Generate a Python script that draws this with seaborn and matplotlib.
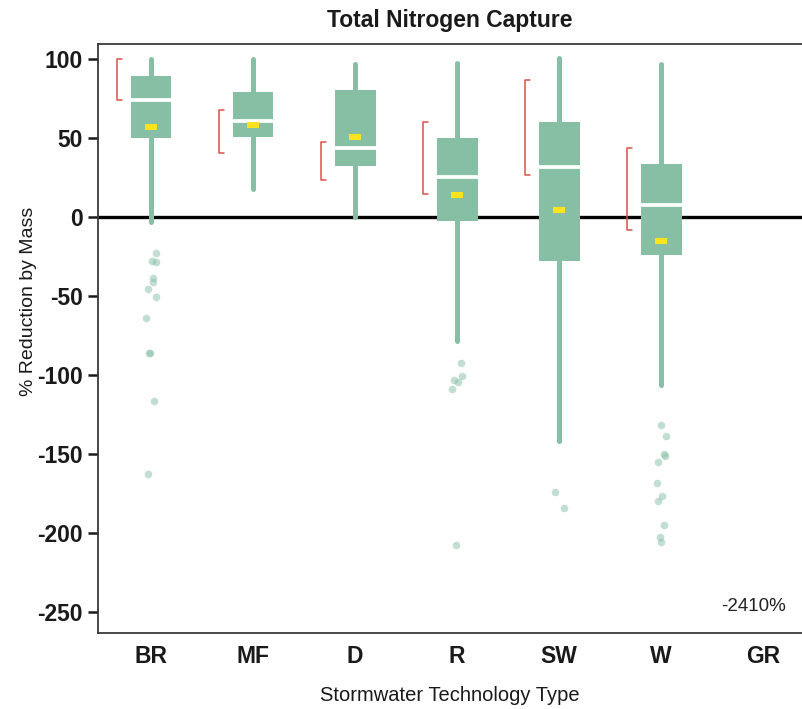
import numpy as np
import pandas as pd
import matplotlib.pyplot as plt
from matplotlib.markers import MarkerStyle
import seaborn as sns

# ── data ─────────────────────────────────────────────────────────────────────
categories = ["BR", "MF", "D", "R", "SW", "W", "GR"]
box_techs = ["BR", "MF", "D", "R", "SW", "W"]

whis_lo = [-3, 18, 0, -78.5, -142, -106.5]
q1 = [50, 51, 32.5, -2.5, -28, -24]
median = [74, 61, 44, 25.5, 31.5, 7.5]
q3 = [89.5, 79.5, 80.5, 50, 60.5, 33.5]
whis_hi = [100, 100, 97, 97.5, 101, 97]
mean = [57, 58.5, 51, 14, 4.5, -15]

# red brackets (interval left of each box)
ci_lo = [74, 40.5, 23.5, 14.5, 27, -8]
ci_hi = [100.5, 68, 47.5, 60, 87, 44]

out_br = [-22.7, -27.8, -28.3, -38.6, -41.1, -45.5, -50.6, -63.9, -86.1, -86.1,
          -116.5, -162.7]
out_r = [-92.5, -100.7, -103.2, -104.5, -108.9, -207.8]
out_sw = [-174, -184.1]
out_w = [-131.7, -138.7, -150.1, -151.4, -155.2, -168.5, -176.7, -179.9,
         -195.1, -202.7, -205.9]

gr_note = "-2410%"
yticks = [100, 50, 0, -50, -100, -150, -200, -250]

GREEN = "#86bfa3"
YELLOW = "#fbe41f"
RED = "#dc514a"

df_out = pd.DataFrame({
    "tech": ["BR"] * len(out_br) + ["R"] * len(out_r)
            + ["SW"] * len(out_sw) + ["W"] * len(out_w),
    "value": out_br + out_r + out_sw + out_w,
})

sns.set_theme(style="ticks")
plt.rcParams["font.family"] = ["Liberation Sans", "DejaVu Sans"]
plt.rcParams["axes.unicode_minus"] = False

fig = plt.figure(figsize=(8.02, 7.09), dpi=100)
ax = fig.add_axes([0.1222, 0.1072, 0.8778, 0.8307])

# ── outliers ─────────────────────────────────────────────────────────────────
np.random.seed(4)
sns.stripplot(data=df_out, x="tech", y="value", order=categories, ax=ax,
              color=GREEN, alpha=0.5, size=5.5, jitter=0.05, linewidth=0,
              zorder=3)

# ── boxes from summary stats ─────────────────────────────────────────────────
stats = [dict(med=m, q1=a, q3=b, whislo=lo, whishi=hi, fliers=[], label=t)
         for t, m, a, b, lo, hi in zip(box_techs, median, q1, q3, whis_lo, whis_hi)]
ax.bxp(stats, positions=range(len(box_techs)), widths=0.4, patch_artist=True,
       showcaps=False, showfliers=False, manage_ticks=False,
       boxprops=dict(facecolor=GREEN, edgecolor="none", linewidth=0),
       whiskerprops=dict(color=GREEN, linewidth=3.6),
       medianprops=dict(color="white", linewidth=2.7), zorder=2)

# mean markers (small yellow rectangles)
rect = MarkerStyle([(-1, -0.5), (1, -0.5), (1, 0.5), (-1, 0.5)])
sns.scatterplot(x=np.arange(len(box_techs)), y=mean, ax=ax, marker=rect,
                s=80, color=YELLOW, edgecolor="none", linewidth=0, zorder=4,
                legend=False)

# red brackets
for i, (lo, hi) in enumerate(zip(ci_lo, ci_hi)):
    ax.plot([i - 0.285, i - 0.335, i - 0.335, i - 0.285], [hi, hi, lo, lo],
            color=RED, linewidth=1.1, zorder=3)

ax.axhline(0, color="black", linewidth=2.4, zorder=1)

ax.text(5.9, -247, gr_note, ha="center", va="center", fontsize=13.5,
        color="#222222")

# ── axes styling ─────────────────────────────────────────────────────────────
ax.set_xlim(-0.52, 6.38)
ax.set_ylim(-263.5, 109.7)
ax.set_xticks(range(len(categories)))
ax.set_xticklabels(categories, fontsize=16.5, fontweight="bold")
ax.set_yticks(yticks)
ax.set_yticklabels([str(v) for v in yticks], fontsize=16.5, fontweight="bold")
ax.tick_params(axis="x", length=0, pad=9, colors="#1a1a1a")
ax.tick_params(axis="y", length=7, width=1.8, pad=4, color="#1a1a1a",
               labelcolor="#1a1a1a")

for side in ["left", "top", "bottom"]:
    ax.spines[side].set_color("#3a3a3a")
    ax.spines[side].set_linewidth(1.3)
ax.spines["right"].set_visible(False)

ax.set_title("Total Nitrogen Capture", fontsize=16.5, fontweight="bold",
             pad=12, color="#1a1a1a")
ax.set_xlabel("Stormwater Technology Type", fontsize=14.5, color="#1a1a1a")
ax.set_ylabel("% Reduction by Mass", fontsize=14, color="#1a1a1a")
ax.xaxis.set_label_coords(0.5, -0.09)
ax.yaxis.set_label_coords(-0.087, 0.563)

fig.savefig("out.png", dpi=100)
